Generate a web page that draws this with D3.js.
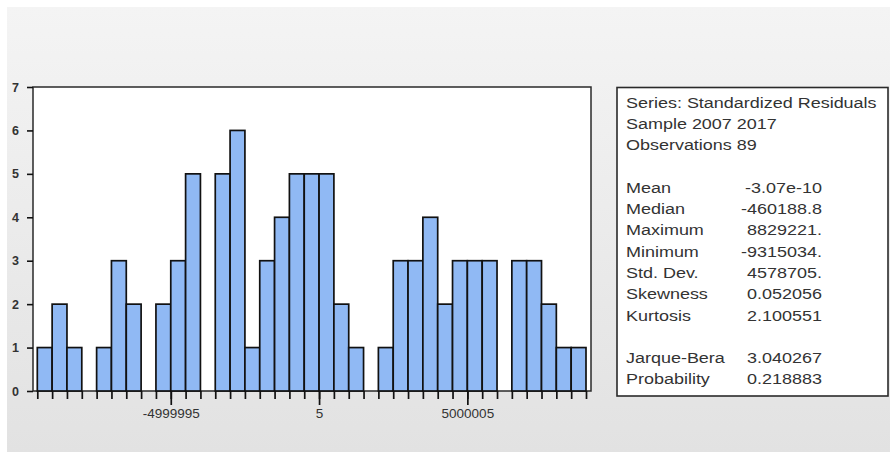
<!DOCTYPE html>
<html>
<head>
<meta charset="utf-8">
<script src="https://cdn.jsdelivr.net/npm/d3@7"></script>
<style>
  html, body { margin: 0; padding: 0; background: #ffffff; }
  svg { display: block; }
  text { font-family: "Liberation Sans", Arial, sans-serif; }
</style>
</head>
<body>
<svg id="chart" width="890" height="452"></svg>
<script>
// ---- data ----
const counts = [1,2,1,0,1,3,2,0,2,3,5,0,5,6,1,3,4,5,5,5,2,1,0,1,3,3,4,2,3,3,3,0,3,3,2,1,1];
const binStart = -9499995;
const binWidth = 500000;
const xTickValues = [-4999995, 5, 5000005];
const xTickLabels = ["-4999995", "5", "5000005"];
const yTickValues = [0, 1, 2, 3, 4, 5, 6, 7];
const headerLines = ["Series: Standardized Residuals", "Sample 2007 2017", "Observations 89"];
const statLabels = ["Mean", "Median", "Maximum", "Minimum", "Std. Dev.", "Skewness", "Kurtosis"];
const statValues = ["-3.07e-10", "-460188.8", "8829221.", "-9315034.", "4578705.", "0.052056", "2.100551"];
const testLabels = ["Jarque-Bera", "Probability"];
const testValues = ["3.040267", "0.218883"];

// ---- layout ----
const W = 890, H = 452;
const frame = { left: 33, top: 87, right: 591, bottom: 391 };
const svg = d3.select("#chart");

const defs = svg.append("defs");
const grad = defs.append("linearGradient").attr("id", "bg").attr("x1", 0).attr("y1", 0).attr("x2", 0).attr("y2", 1);
grad.append("stop").attr("offset", "0%").attr("stop-color", "#f4f4f4");
grad.append("stop").attr("offset", "100%").attr("stop-color", "#e2e2e2");

svg.append("rect").attr("x", 0).attr("y", 0).attr("width", W).attr("height", H).attr("fill", "#ffffff");
svg.append("rect").attr("x", 7).attr("y", 7).attr("width", W - 7).attr("height", H - 7).attr("fill", "url(#bg)");

const nBins = counts.length;
const edges = d3.range(nBins + 1).map(i => binStart + i * binWidth);

const x = d3.scaleLinear()
  .domain([edges[0], edges[nBins]])
  .range([37.3, 586]);
const y = d3.scaleLinear().domain([0, 7]).range([frame.bottom, frame.top]);

// plot frame
svg.append("rect")
  .attr("x", frame.left).attr("y", frame.top)
  .attr("width", frame.right - frame.left).attr("height", frame.bottom - frame.top)
  .attr("fill", "#ffffff").attr("stroke", "#2a2a2a").attr("stroke-width", 1.5);

// bars
svg.append("g").selectAll("rect")
  .data(counts.map((c, i) => ({ c, x0: edges[i], x1: edges[i + 1] })).filter(d => d.c > 0))
  .join("rect")
  .attr("x", d => x(d.x0))
  .attr("y", d => y(d.c))
  .attr("width", d => x(d.x1) - x(d.x0))
  .attr("height", d => y(0) - y(d.c))
  .attr("fill", "#90b9f4")
  .attr("stroke", "#111111")
  .attr("stroke-width", 1.7);

// x axis: minor ticks at every bin edge
const xMinor = svg.append("g")
  .attr("transform", `translate(0,${frame.bottom})`)
  .call(d3.axisBottom(x).tickValues(edges).tickSize(8).tickFormat(""));
xMinor.select(".domain").remove();
xMinor.selectAll("line").attr("stroke", "#111").attr("stroke-width", 1.7);

const xMajor = svg.append("g")
  .attr("transform", `translate(0,${frame.bottom})`)
  .call(d3.axisBottom(x).tickValues(xTickValues).tickSize(14).tickPadding(3)
    .tickFormat((d, i) => xTickLabels[i]));
xMajor.select(".domain").remove();
xMajor.selectAll("line").attr("stroke", "#111").attr("stroke-width", 1.7);
xMajor.selectAll("text").attr("font-size", 13.5).attr("fill", "#333")
  .attr("font-family", "'Liberation Sans', Arial, sans-serif");

// y axis
const yAx = svg.append("g")
  .attr("transform", `translate(${frame.left},0)`)
  .call(d3.axisLeft(y).tickValues(yTickValues).tickSize(6).tickPadding(8).tickFormat(d3.format("d")));
yAx.select(".domain").remove();
yAx.selectAll("line").attr("stroke", "#111").attr("stroke-width", 1.6);
yAx.selectAll("text").attr("font-size", 12.5).attr("fill", "#333").attr("font-weight", "bold")
  .attr("font-family", "'Liberation Sans', Arial, sans-serif");

// stats box
const box = { left: 617, top: 87.5, right: 888, bottom: 396 };
svg.append("rect")
  .attr("x", box.left).attr("y", box.top)
  .attr("width", box.right - box.left).attr("height", box.bottom - box.top)
  .attr("fill", "#ffffff").attr("stroke", "#2a2a2a").attr("stroke-width", 1.6);

const rowY = i => 102 + 21.3 * i + 5.5;
const fs = 15.5, sx = 1.16;
const labelX = 626, valueX = 822;
const st = svg.append("g").attr("fill", "#333333").attr("font-size", fs);

function addText(str, xx, yy, anchor) {
  st.append("text")
    .attr("transform", `translate(${xx},${yy}) scale(${sx},1)`)
    .attr("text-anchor", anchor)
    .text(str);
}
headerLines.forEach((t, i) => addText(t, labelX, rowY(i), "start"));
statLabels.forEach((t, i) => addText(t, labelX, rowY(i + 4), "start"));
statValues.forEach((t, i) => addText(t, valueX, rowY(i + 4), "end"));
testLabels.forEach((t, i) => addText(t, labelX, rowY(i + 12), "start"));
testValues.forEach((t, i) => addText(t, valueX, rowY(i + 12), "end"));
</script>
</body>
</html>
